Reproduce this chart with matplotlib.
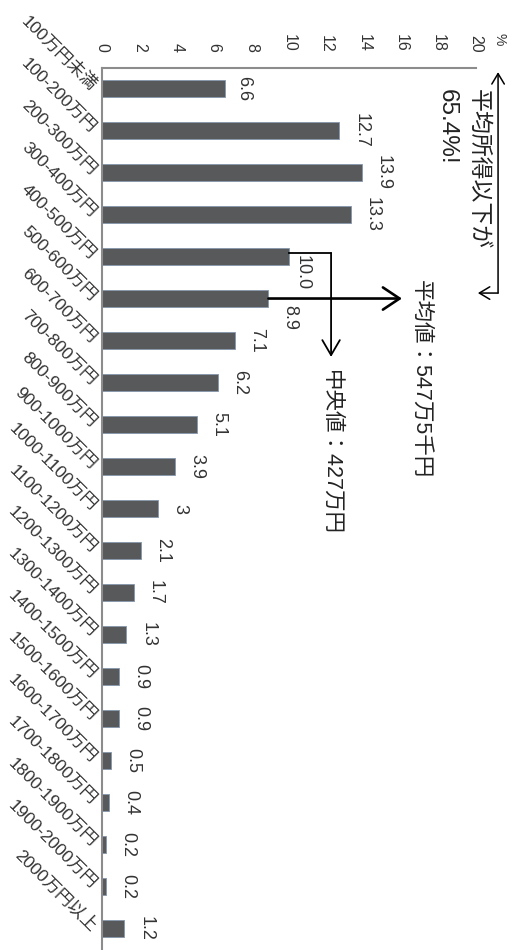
import matplotlib.pyplot as plt
import numpy as np

plt.rcParams['font.family'] = ['Liberation Sans', 'Noto Sans CJK JP']

# 所得金額階級別 世帯数の相対度数分布 (%)
categories = ['100万円未満', '100-200万円', '200-300万円', '300-400万円', '400-500万円',
              '500-600万円', '600-700万円', '700-800万円', '800-900万円', '900-1000万円',
              '1000-1100万円', '1100-1200万円', '1200-1300万円', '1300-1400万円',
              '1400-1500万円', '1500-1600万円', '1600-1700万円', '1700-1800万円',
              '1800-1900万円', '1900-2000万円', '2000万円以上']
shares = [6.6, 12.7, 13.9, 13.3, 10.0, 8.9, 7.1, 6.2, 5.1, 3.9, 3.0,
          2.1, 1.7, 1.3, 0.9, 0.9, 0.5, 0.4, 0.2, 0.2, 1.2]
share_labels = ['6.6', '12.7', '13.9', '13.3', '10.0', '8.9', '7.1', '6.2', '5.1', '3.9', '3',
                '2.1', '1.7', '1.3', '0.9', '0.9', '0.5', '0.4', '0.2', '0.2', '1.2']

mean_text = '平均値：547万5千円'
median_text = '中央値：427万円'
below_mean_text = ['平均所得以下が', '65.4%!']

# labels that were nudged by hand in the original (offset points)
label_nudge = {0: (7, 0), 4: (3, -11.5), 5: (9.5, -13.5)}

fig = plt.figure(figsize=(5.13, 9.5), dpi=100)
ax = fig.add_axes([102 / 513, 0.0005, 374 / 513, 882 / 950])

y = np.arange(len(categories))
ax.barh(y, shares, height=0.4, color='#58595b', edgecolor='#8596ad', linewidth=0.6)

ax.set_xlim(0, 20)
ax.set_ylim(len(categories) - 0.5, -0.5)
ax.xaxis.tick_top()
ax.set_xticks(range(0, 21, 2))
ax.tick_params(axis='x', length=0, pad=11, labelsize=11.5, labelrotation=-90, colors='#333333')
ax.set_yticks(y)
ax.set_yticklabels(categories, rotation=-45, ha='right', va='center',
                   rotation_mode='anchor', fontsize=12.5, color='#333333')
ax.tick_params(axis='y', length=0, pad=6)

for side in ['right', 'bottom']:
    ax.spines[side].set_visible(False)
for side in ['top', 'left']:
    ax.spines[side].set_color('#8c8c8c')
    ax.spines[side].set_linewidth(1.5)

for i, (v, s) in enumerate(zip(shares, share_labels)):
    dx, dy = label_nudge.get(i, (9.5, 0))
    ax.annotate(s, (v, i), xytext=(dx, dy), textcoords='offset points',
                rotation=-90, ha='left', va='center', fontsize=13, color='#333333')

fig.text(499 / 513, 1 - 39 / 950, '%', rotation=-90, ha='center', va='center',
         fontsize=10, color='#333333')

# 中央値: elbow from the 400-500 bar
ax.plot([shares[4], 12.25], [3.92, 3.92], color='black', lw=1.3)
ax.annotate('', xy=(12.25, 6.39), xytext=(12.25, 3.92),
            arrowprops=dict(arrowstyle='->,head_length=0.6,head_width=0.35', lw=1.3,
                            color='black', shrinkA=0, shrinkB=0, mutation_scale=18))
ax.text(12.25, 6.7, median_text, rotation=-90, ha='center', va='top', fontsize=15.5, color='#222222')

# 平均値: arrow from the 500-600 bar
ax.annotate('', xy=(16.04, 5), xytext=(shares[5], 5),
            arrowprops=dict(arrowstyle='->,head_length=0.6,head_width=0.4', lw=1.9,
                            color='black', shrinkA=0, shrinkB=0, mutation_scale=20))
ax.text(17.06, 4.56, mean_text, rotation=-90, ha='center', va='top', fontsize=15.5, color='#222222')

# 平均所得以下 bracket
ax.annotate('', xy=(21.18, -0.39), xytext=(21.18, 4.87), annotation_clip=False,
            arrowprops=dict(arrowstyle='->,head_length=0.5,head_width=0.3', lw=1.1,
                            color='black', shrinkA=0, shrinkB=0, mutation_scale=15))
ax.annotate('', xy=(20.1, 4.87), xytext=(21.18, 4.87), annotation_clip=False,
            arrowprops=dict(arrowstyle='->,head_length=0.5,head_width=0.3', lw=1.1,
                            color='black', shrinkA=0, shrinkB=0, mutation_scale=15))
ax.text(20.1, 0.0, below_mean_text[0], rotation=-90, ha='center', va='top',
        fontsize=16.5, color='#222222', clip_on=False)
ax.text(18.45, 0.0, below_mean_text[1], rotation=-90, ha='center', va='top',
        fontsize=17.5, color='#222222', clip_on=False)

fig.savefig('out.png', dpi=100)
